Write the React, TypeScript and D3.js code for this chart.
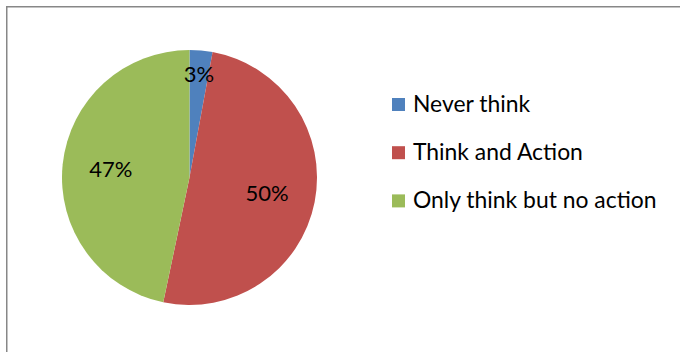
import React from "react";
import * as d3 from "d3";

const categories = ["Never think", "Think and Action", "Only think but no action"];
const values = [2.9, 50.4, 46.7];
const colors = ["#4F81BD", "#C0504D", "#9BBB59"];

const W = 680;
const H = 352;

export default function App() {
  const cx = 189.5;
  const cy = 177.5;
  const r = 127.5;
  const total = d3.sum(values);
  const pie = d3.pie<number>().sort(null).value((d) => d)(values);
  const arc = d3.arc<d3.PieArcDatum<number>>().innerRadius(0).outerRadius(r);
  const font = "Lato, 'Noto Sans', sans-serif";

  const legendX = 392;
  const legendY0 = 98;
  const legendStep = 48.2;

  return (
    <svg
      width={W}
      height={H}
      style={{ position: "absolute", left: 0, top: 0, background: "#fff" }}
    >
      <rect x={0} y={0} width={W} height={H} fill="#fff" />
      <path
        d={`M6.75,${H + 2} L6.75,6.75 L${W + 2},6.75`}
        fill="none"
        stroke="#878787"
        strokeWidth={1.5}
      />
      <g transform={`translate(${cx},${cy})`}>
        {pie.map((p, i) => (
          <path key={i} d={arc(p) || ""} fill={colors[i]} />
        ))}
        {pie.map((p, i) => {
          const share = p.value / total;
          const lr = share < 0.1 ? r * 0.815 : r * 0.62;
          const la = d3.arc<d3.PieArcDatum<number>>().innerRadius(lr).outerRadius(lr);
          const [x, y] = la.centroid(p);
          return (
            <text
              key={i}
              x={x}
              y={y}
              dy="0.35em"
              textAnchor="middle"
              fontFamily={font}
              fontSize={22}
              fill="#000"
            >
              {Math.round(share * 100)}%
            </text>
          );
        })}
      </g>
      {categories.map((c, i) => (
        <g key={c} transform={`translate(${legendX},${legendY0 + i * legendStep})`}>
          <rect x={0} y={0} width={13} height={13} fill={colors[i]} />
          <text x={21} y={13.8} fontFamily={font} fontSize={22.9} fill="#000">
            {c}
          </text>
        </g>
      ))}
    </svg>
  );
}
